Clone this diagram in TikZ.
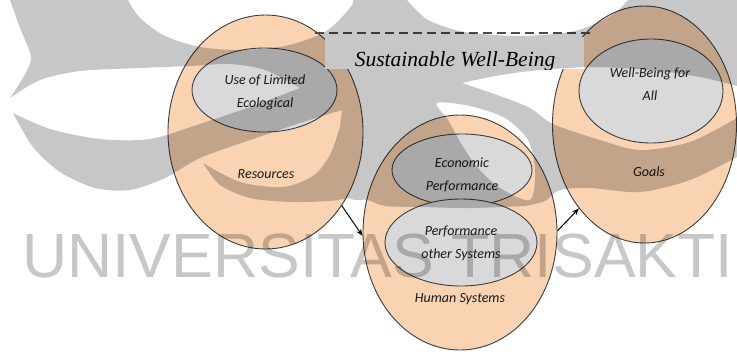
\documentclass[tikz,border=0pt]{standalone}
\usepackage{fontspec}
\usetikzlibrary{shapes.geometric,arrows.meta}
\newfontfamily\labelfont{Carlito}
\newfontfamily\titlefont{Liberation Serif}
\newfontfamily\markfont{Liberation Sans}
\definecolor{peach}{HTML}{F9D3B2}
\definecolor{lightgrey}{HTML}{D9D9D9}
\definecolor{edge}{HTML}{3C3C3C}
\begin{document}
\begin{tikzpicture}[x=1pt,y=-1pt,
  outerell/.style={ellipse, draw=edge, line width=0.9pt, fill=peach, inner sep=0pt},
  innerell/.style={ellipse, draw=edge, line width=0.9pt, fill=lightgrey, inner sep=0pt},
  lbl/.style={font=\labelfont\itshape\fontsize{14}{23}\selectfont, align=center, text=black!90, inner sep=0pt},
  flow/.style={-{Stealth[length=7pt,width=5.5pt]}, line width=1pt, black},
  guide/.style={dash pattern=on 9pt off 5pt, line width=1.5pt, black!70},
  wmark/.style={fill=black, opacity=0.22}]
\useasboundingbox (0,0) rectangle (737,354);

% three outer systems
\node[outerell, minimum width=195pt, minimum height=234pt] (res) at (265.5,132) {};
\node[outerell, minimum width=194pt, minimum height=235pt] (hum) at (460,232.5) {};
\node[outerell, minimum width=184pt, minimum height=237pt] (goals) at (644.5,124.5) {};

% inner sub-systems
\node[innerell, minimum width=145pt, minimum height=84pt] (eco) at (264.5,90) {};
\node[innerell, minimum width=140pt, minimum height=72pt] (econ) at (462,170) {};
\node[innerell, minimum width=152pt, minimum height=87pt] (perf) at (461,242.5) {};
\node[innerell, minimum width=144pt, minimum height=104pt] (wba) at (651,91) {};

% title box
\node[fill=white, minimum width=259pt, minimum height=32pt, inner sep=0pt] (swbbox) at (454.5,53) {};
\begin{scope}
  \clip (swbbox.north west) rectangle (swbbox.south east);
  \node[anchor=base, inner sep=0pt, font=\titlefont\itshape\fontsize{21.5}{24}\selectfont] (swbtext) at (455,66) {Sustainable Well-Being};
\end{scope}
\coordinate (dashL) at (315,33);
\coordinate (dashR) at (594,33);
\draw[guide] (dashL) -- (dashR);

% labels
\node[lbl] (ecotext) at (265,92.5) {Use of Limited\\Ecological};
\node[lbl, anchor=base] (restext) at (266,178.5) {Resources};
\node[lbl] (econtext) at (462,175) {Economic\\Performance};
\node[lbl] (perftext) at (461,243.5) {Performance\\other Systems};
\node[lbl, anchor=base] (humtext) at (460,302.5) {Human Systems};
\node[lbl] (wbatext) at (650,84) {Well-Being for\\All};
\node[lbl, anchor=base] (goalstext) at (649,176.5) {Goals};

% flows
\draw[flow] (res.-44) -- (hum.182);
\draw[flow] (hum.1) -- (goals.-128.5);

% university watermark
\fill[wmark, even odd rule]
  (10,0) -- (128,0)
  -- plot[smooth] coordinates {(128,0) (140,18) (165,36) (200,47) (240,50) (285,46) (325,32) (350,8) (353,0)}
  -- (407,0)
  -- plot[smooth] coordinates {(407,0) (428,20) (465,32) (520,36) (575,31) (612,15) (628,0)}
  -- (737,0) -- (737,86)
  -- plot[smooth] coordinates {(737,86) (700,77) (650,70) (590,67) (530,71) (490,77) (462,83)}
  -- plot[smooth] coordinates {(462,83) (500,96) (530,108) (553,124) (600,140) (640,150) (690,142) (737,118)}
  -- (737,157)
  -- plot[smooth] coordinates {(737,157) (690,180) (640,192) (590,188) (560,190) (545,201) (525,206)}
  -- plot[smooth] coordinates {(525,206) (470,208) (420,207) (385,206) (368,200) (355,200) (348,198)}
  -- plot[smooth] coordinates {(348,198) (330,201) (290,202) (250,198) (220,185) (203,163)}
  -- plot[smooth] coordinates {(203,163) (240,182) (283,187) (313,176) (330,155) (340,127)}
  -- (342,110)
  -- plot[smooth] coordinates {(342,110) (300,123) (250,140) (200,158) (165,178) (130,190) (95,188) (60,172) (33,147) (13,113)}
  -- plot[smooth] coordinates {(13,113) (50,129) (100,139) (150,139) (200,124) (250,107) (300,88)}
  -- plot[smooth] coordinates {(300,88) (265,70) (230,64) (190,66) (140,68) (80,71) (40,80) (10,98)}
  -- plot[smooth] coordinates {(10,98) (24,76) (31,57) (20,28) (10,0)}
  -- cycle
  plot[smooth cycle] coordinates {(437,103) (470,106) (505,118) (528,140) (535,170) (530,200) (500,188) (478,168) (462,145) (448,120)};
\node[anchor=base west, inner sep=0pt, text=black, opacity=0.22, font=\markfont\fontsize{62.5}{70}\selectfont] (wmtext) at (22,277) {UNIVERSITAS TRISAKTI};
\end{tikzpicture}
\end{document}
